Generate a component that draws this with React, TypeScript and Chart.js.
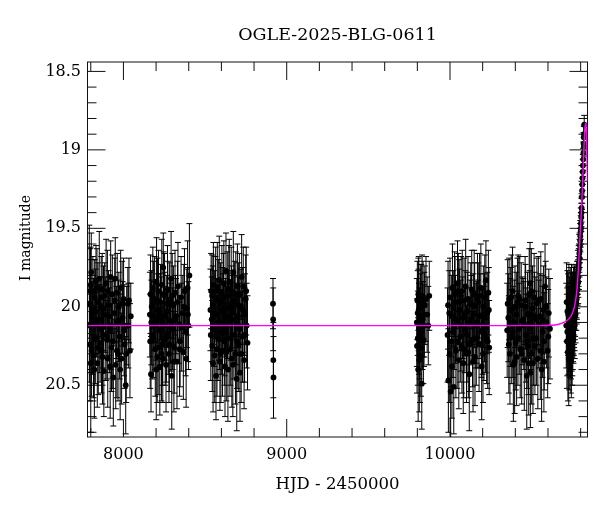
import React, { useEffect, useRef } from "react";
import { Chart, registerables } from "chart.js";

Chart.register(...registerables);

type Obs = [number, number, number]; // [HJD-2450000, I mag, error]

const chartTitle = "OGLE-2025-BLG-0611";
const xAxisTitle = "HJD - 2450000";
const yAxisTitle = "I magnitude";

const xMin = 7780;
const xMax = 10842;
const yMin = 18.44;
const yMax = 20.83;
const xTickValues = [8000, 9000, 10000];
const yTickValues = [18.5, 19, 19.5, 20, 20.5];
const xMinorStep = 200;
const xMajorStep = 1000;
const yMinorStep = 0.1;
const yMajorStep = 0.5;

const season1: Obs[] = [
  [7791, 19.98, 0.5], [7795, 20.24, 0.36], [7799, 19.86, 0.24], [7800, 20.36, 0.44],
  [7803, 19.78, 0.25], [7807, 20.05, 0.21], [7810, 20.17, 0.26], [7813, 19.9, 0.22],
  [7817, 20.31, 0.27], [7820, 20.02, 0.2], [7824, 19.94, 0.24], [7828, 20.2, 0.29],
  [7832, 19.84, 0.23], [7836, 20.11, 0.21], [7840, 20.36, 0.28], [7844, 19.97, 0.25],
  [7848, 20.08, 0.22], [7852, 19.82, 0.3], [7857, 20.23, 0.25], [7861, 20.0, 0.19],
  [7866, 20.28, 0.27], [7870, 19.89, 0.23], [7875, 20.13, 0.26], [7880, 20.41, 0.29],
  [7885, 19.93, 0.21], [7889, 20.05, 0.24], [7894, 19.85, 0.28], [7899, 20.21, 0.25],
  [7904, 20.33, 0.31], [7909, 19.99, 0.22], [7914, 20.15, 0.27], [7919, 20.38, 0.33],
  [7922, 19.81, 0.23], [7927, 20.26, 0.28], [7932, 19.92, 0.25], [7938, 20.45, 0.31],
  [7943, 20.04, 0.21], [7950, 19.82, 0.26], [7953, 20.37, 0.28], [7957, 20.1, 0.23],
  [7962, 19.91, 0.25], [7967, 20.3, 0.3], [7972, 20.0, 0.22], [7977, 20.19, 0.27],
  [7983, 19.88, 0.24], [7989, 20.33, 0.29], [7995, 20.07, 0.23], [8001, 19.95, 0.26],
  [8007, 20.24, 0.28], [8014, 20.5, 0.31], [8020, 20.12, 0.25], [8027, 19.98, 0.23],
  [8034, 19.96, 0.27], [8040, 20.28, 0.3], [8045, 20.06, 0.21],
  [7793, 20.12, 0.3], [7797, 19.9, 0.27], [7805, 20.28, 0.29], [7815, 20.08, 0.26],
  [7822, 20.4, 0.31], [7830, 20.03, 0.27], [7838, 19.88, 0.25], [7846, 20.26, 0.3],
  [7855, 20.14, 0.28], [7864, 19.94, 0.26], [7872, 20.32, 0.3], [7878, 20.01, 0.27],
  [7892, 20.18, 0.29], [7902, 19.9, 0.26], [7912, 20.06, 0.25], [7925, 20.12, 0.28],
  [7935, 20.22, 0.3], [7947, 19.96, 0.27], [7960, 20.28, 0.3], [7970, 20.09, 0.26],
  [7980, 20.4, 0.32], [7992, 19.98, 0.27], [8004, 20.15, 0.29], [8017, 20.3, 0.31],
  [8030, 20.12, 0.27],
];

const season2: Obs[] = [
  [8162, 20.05, 0.27], [8166, 19.92, 0.25], [8169, 20.43, 0.24], [8173, 20.0, 0.23],
  [8177, 20.18, 0.28], [8180, 19.88, 0.26], [8183, 20.2, 0.25], [8187, 20.06, 0.22],
  [8191, 19.95, 0.27], [8195, 20.27, 0.3], [8199, 20.1, 0.24], [8203, 19.84, 0.28],
  [8207, 20.32, 0.29], [8211, 20.02, 0.23], [8215, 19.9, 0.26], [8219, 20.15, 0.25],
  [8223, 20.38, 0.31], [8227, 19.97, 0.24], [8231, 20.08, 0.27], [8235, 19.86, 0.29],
  [8239, 20.24, 0.26], [8241, 20.33, 0.28], [8244, 19.75, 0.22], [8248, 20.12, 0.25],
  [8252, 19.93, 0.27], [8256, 20.21, 0.29], [8261, 20.37, 0.3], [8265, 20.03, 0.23],
  [8270, 19.89, 0.28], [8274, 20.17, 0.26], [8279, 20.3, 0.31], [8283, 19.96, 0.24],
  [8288, 20.09, 0.27], [8292, 19.82, 0.3], [8296, 20.44, 0.34], [8301, 20.14, 0.26],
  [8306, 19.99, 0.25], [8311, 20.26, 0.29], [8316, 19.91, 0.27], [8322, 20.06, 0.24],
  [8328, 20.35, 0.3], [8334, 19.87, 0.28], [8340, 20.11, 0.25], [8347, 20.22, 0.29],
  [8353, 19.94, 0.26], [8360, 20.04, 0.24], [8367, 20.29, 0.3], [8374, 19.9, 0.27],
  [8381, 20.16, 0.28], [8388, 20.01, 0.25], [8393, 19.88, 0.3], [8398, 20.12, 0.28],
  [8404, 19.8, 0.33],
  [8164, 20.22, 0.3], [8171, 20.1, 0.27], [8185, 19.97, 0.26], [8193, 20.12, 0.28],
  [8201, 20.4, 0.32], [8209, 19.96, 0.27], [8217, 20.26, 0.3], [8225, 20.05, 0.26],
  [8233, 20.3, 0.3], [8246, 19.92, 0.27], [8254, 20.06, 0.28], [8263, 20.19, 0.29],
  [8272, 19.98, 0.27], [8281, 20.24, 0.3], [8290, 20.13, 0.28], [8299, 19.93, 0.27],
  [8309, 20.35, 0.32], [8319, 20.08, 0.28], [8331, 19.97, 0.26], [8344, 20.27, 0.3],
  [8357, 20.13, 0.28], [8370, 20.0, 0.27], [8384, 20.33, 0.31], [8395, 20.05, 0.3],
];

const season3: Obs[] = [
  [8533, 20.02, 0.26], [8537, 19.9, 0.24], [8541, 20.08, 0.27], [8544, 20.25, 0.29],
  [8547, 19.99, 0.25], [8551, 19.86, 0.27], [8555, 20.14, 0.24], [8559, 20.31, 0.3],
  [8563, 19.94, 0.26], [8567, 20.44, 0.28], [8571, 20.05, 0.23], [8575, 19.88, 0.29],
  [8579, 20.2, 0.27], [8583, 20.1, 0.24], [8587, 19.83, 0.28], [8591, 20.35, 0.31],
  [8595, 19.97, 0.25], [8599, 20.16, 0.27], [8603, 19.91, 0.3], [8607, 20.28, 0.29],
  [8611, 20.03, 0.24], [8615, 19.85, 0.27], [8618, 20.22, 0.28], [8622, 20.38, 0.32],
  [8625, 20.07, 0.25], [8628, 19.77, 0.24], [8632, 20.13, 0.26], [8636, 19.93, 0.28],
  [8640, 20.4, 0.33], [8644, 20.01, 0.24], [8648, 19.84, 0.27], [8652, 20.27, 0.3],
  [8656, 20.09, 0.25], [8660, 19.9, 0.28], [8664, 20.33, 0.31], [8668, 20.04, 0.24],
  [8673, 19.78, 0.26], [8677, 20.18, 0.28], [8681, 19.96, 0.25], [8686, 20.3, 0.32],
  [8690, 20.11, 0.26], [8694, 20.46, 0.33], [8698, 19.87, 0.27], [8702, 20.06, 0.25],
  [8706, 20.24, 0.3], [8710, 19.92, 0.26], [8714, 20.42, 0.31], [8719, 20.0, 0.24],
  [8724, 19.81, 0.27], [8729, 20.19, 0.29], [8734, 19.87, 0.25], [8739, 20.34, 0.31],
  [8744, 20.05, 0.26], [8749, 19.95, 0.28], [8755, 20.12, 0.27], [8760, 20.23, 0.3],
  [8535, 20.18, 0.29], [8543, 19.93, 0.26], [8549, 20.36, 0.31], [8557, 20.04, 0.27],
  [8565, 19.9, 0.28], [8573, 20.27, 0.3], [8581, 19.96, 0.26], [8589, 20.12, 0.28],
  [8597, 20.3, 0.31], [8605, 20.02, 0.27], [8613, 19.94, 0.28], [8620, 20.15, 0.29],
  [8630, 20.29, 0.31], [8638, 20.06, 0.27], [8646, 19.89, 0.28], [8654, 20.2, 0.3],
  [8662, 20.0, 0.26], [8670, 20.37, 0.33], [8679, 20.08, 0.28], [8688, 19.92, 0.27],
  [8696, 20.22, 0.3], [8704, 19.99, 0.27], [8712, 20.14, 0.29], [8721, 20.3, 0.31],
  [8731, 20.02, 0.27], [8742, 20.18, 0.3], [8752, 19.9, 0.28],
];

const season4: Obs[] = [
  [8916, 19.98, 0.16], [8917, 20.08, 0.2], [8918, 20.34, 0.24], [8919, 20.45, 0.26],
];

const season5: Obs[] = [
  [9797, 20.1, 0.28], [9800, 19.96, 0.25], [9803, 20.2, 0.3], [9806, 19.92, 0.23],
  [9808, 20.02, 0.26], [9810, 20.14, 0.29], [9812, 20.34, 0.33], [9816, 20.31, 0.3],
  [9820, 20.06, 0.27], [9824, 19.98, 0.25], [9827, 20.49, 0.29], [9829, 19.93, 0.26],
  [9833, 20.08, 0.24], [9837, 20.21, 0.28], [9841, 20.12, 0.26], [9846, 19.99, 0.25],
  [9853, 19.95, 0.27], [9860, 20.05, 0.24], [9867, 20.12, 0.25], [9873, 19.93, 0.22],
  [9798, 20.25, 0.3], [9802, 20.04, 0.27], [9805, 20.4, 0.33], [9809, 19.94, 0.26],
  [9814, 20.17, 0.29], [9818, 20.0, 0.27], [9822, 20.26, 0.31], [9831, 20.12, 0.28],
  [9835, 19.97, 0.26], [9843, 20.05, 0.27],
];

const season6: Obs[] = [
  [9985, 20.18, 0.3], [9990, 20.47, 0.33], [9995, 20.04, 0.27], [10000, 19.94, 0.25],
  [10004, 20.54, 0.31], [10008, 20.22, 0.29], [10010, 20.06, 0.26], [10015, 19.88, 0.28],
  [10020, 20.01, 0.24], [10023, 20.51, 0.3], [10026, 20.13, 0.27], [10031, 19.97, 0.29],
  [10036, 20.28, 0.3], [10041, 20.09, 0.25], [10046, 19.85, 0.27], [10051, 19.9, 0.24],
  [10054, 20.34, 0.31], [10058, 20.02, 0.26], [10063, 20.19, 0.29], [10068, 19.93, 0.25],
  [10073, 20.25, 0.3], [10077, 20.07, 0.26], [10081, 20.36, 0.32], [10086, 19.96, 0.27],
  [10091, 20.14, 0.28], [10096, 19.87, 0.3], [10101, 20.3, 0.31], [10106, 20.03, 0.25],
  [10112, 20.29, 0.29], [10118, 20.43, 0.36], [10122, 20.1, 0.27], [10127, 19.98, 0.26],
  [10133, 19.89, 0.25], [10138, 20.21, 0.3], [10143, 20.05, 0.26], [10148, 19.92, 0.28],
  [10153, 20.32, 0.31], [10158, 20.12, 0.27], [10163, 20.1, 0.26], [10168, 19.95, 0.29],
  [10173, 19.97, 0.25], [10178, 20.24, 0.3], [10183, 20.06, 0.27], [10189, 19.88, 0.28],
  [10194, 20.38, 0.34], [10199, 20.15, 0.28], [10204, 20.0, 0.26], [10208, 20.17, 0.3],
  [10213, 19.94, 0.27], [10220, 19.83, 0.25], [10224, 20.2, 0.29], [10228, 20.04, 0.26],
  [10235, 19.91, 0.27], [10240, 20.26, 0.3],
  [9988, 19.99, 0.28], [9998, 20.3, 0.31], [10012, 20.38, 0.33], [10018, 20.16, 0.29],
  [10028, 19.92, 0.27], [10034, 20.08, 0.28], [10044, 20.22, 0.3], [10056, 19.97, 0.27],
  [10066, 20.12, 0.29], [10075, 19.9, 0.26], [10084, 20.27, 0.31], [10094, 20.04, 0.27],
  [10104, 20.18, 0.3], [10110, 19.95, 0.27], [10120, 20.24, 0.3], [10130, 20.08, 0.28],
  [10141, 20.35, 0.32], [10151, 19.99, 0.27], [10161, 20.2, 0.3], [10171, 20.11, 0.28],
  [10181, 19.93, 0.27], [10192, 20.16, 0.29], [10202, 20.3, 0.31], [10211, 20.07, 0.28],
  [10218, 20.13, 0.29], [10231, 20.22, 0.3], [10238, 20.02, 0.27],
];

const season7: Obs[] = [
  [10350, 20.15, 0.3], [10357, 20.07, 0.28], [10362, 19.95, 0.26], [10367, 20.3, 0.32],
  [10372, 20.02, 0.27], [10378, 20.19, 0.3], [10383, 19.9, 0.28], [10388, 20.37, 0.36],
  [10393, 20.1, 0.27], [10398, 20.0, 0.26], [10403, 20.23, 0.3], [10408, 20.32, 0.31],
  [10413, 19.97, 0.28], [10418, 19.93, 0.26], [10424, 20.14, 0.29], [10430, 20.27, 0.31],
  [10436, 19.99, 0.27], [10442, 20.09, 0.28], [10449, 20.08, 0.26], [10455, 20.34, 0.32],
  [10460, 19.96, 0.28], [10465, 20.18, 0.3], [10470, 20.44, 0.34], [10475, 20.05, 0.27],
  [10480, 20.25, 0.31], [10485, 19.92, 0.29], [10490, 19.85, 0.26], [10492, 20.42, 0.35],
  [10495, 20.12, 0.28], [10500, 20.3, 0.32], [10505, 20.01, 0.27], [10510, 20.2, 0.3],
  [10515, 19.94, 0.28], [10520, 20.25, 0.31], [10526, 20.08, 0.27], [10532, 19.98, 0.29],
  [10538, 20.33, 0.32], [10544, 20.11, 0.28], [10551, 20.06, 0.27], [10556, 19.95, 0.3],
  [10561, 20.4, 0.33], [10567, 20.16, 0.29], [10572, 20.02, 0.28], [10577, 20.22, 0.31],
  [10582, 19.87, 0.27], [10590, 20.1, 0.29], [10598, 20.28, 0.3], [10605, 20.04, 0.28],
  [10612, 20.14, 0.32],
  [10353, 19.98, 0.28], [10360, 20.24, 0.31], [10369, 20.1, 0.28], [10375, 19.94, 0.27],
  [10385, 20.16, 0.29], [10396, 20.35, 0.33], [10406, 20.05, 0.27], [10416, 20.2, 0.3],
  [10427, 19.95, 0.27], [10439, 20.3, 0.32], [10452, 20.12, 0.28], [10463, 20.0, 0.27],
  [10472, 20.22, 0.3], [10482, 20.36, 0.33], [10488, 20.05, 0.28], [10498, 19.9, 0.27],
  [10508, 20.36, 0.32], [10518, 20.06, 0.28], [10529, 20.2, 0.3], [10541, 19.96, 0.28],
  [10553, 20.28, 0.31], [10564, 20.08, 0.28], [10575, 20.35, 0.32], [10586, 20.0, 0.29],
  [10602, 20.19, 0.3],
];

const season8: Obs[] = [
  [10712, 20.12, 0.27], [10716, 20.22, 0.3], [10719, 20.03, 0.26], [10722, 20.29, 0.31],
  [10725, 20.15, 0.28], [10728, 19.98, 0.25], [10730, 20.24, 0.29], [10733, 20.08, 0.27],
  [10735, 20.23, 0.22], [10737, 20.18, 0.26], [10739, 20.02, 0.24], [10740, 20.27, 0.28],
  [10742, 20.1, 0.25], [10744, 19.96, 0.23], [10745, 20.15, 0.26], [10747, 20.05, 0.22],
  [10749, 20.2, 0.24], [10751, 19.99, 0.21], [10753, 20.12, 0.23], [10755, 20.08, 0.22],
  [10757, 19.95, 0.2], [10759, 20.03, 0.21], [10761, 19.98, 0.2], [10763, 20.06, 0.22],
  [10765, 20.02, 0.19], [10768, 19.97, 0.18], [10771, 19.93, 0.17], [10774, 19.9, 0.17],
  [10776, 19.95, 0.16], [10779, 19.86, 0.15], [10782, 19.85, 0.14], [10784, 19.78, 0.14],
  [10786, 19.81, 0.13], [10788, 19.74, 0.13], [10790, 19.72, 0.12], [10792, 19.66, 0.12],
  [10794, 19.64, 0.11], [10796, 19.61, 0.11], [10798, 19.55, 0.1], [10800, 19.52, 0.1],
  [10802, 19.5, 0.1], [10804, 19.43, 0.09], [10806, 19.37, 0.09], [10808, 19.3, 0.08],
  [10810, 19.22, 0.08], [10812, 19.18, 0.08], [10814, 19.1, 0.07], [10816, 19.06, 0.07],
  [10818, 18.96, 0.07], [10820, 18.98, 0.06], [10822, 18.84, 0.06],
  [10714, 19.97, 0.25], [10718, 20.16, 0.28], [10724, 20.05, 0.26], [10727, 20.33, 0.3],
  [10732, 20.14, 0.27], [10736, 19.99, 0.24], [10741, 20.2, 0.26], [10743, 20.3, 0.28],
  [10746, 20.09, 0.24], [10748, 20.25, 0.25], [10750, 20.06, 0.22], [10752, 20.17, 0.23],
  [10754, 20.0, 0.21], [10756, 20.14, 0.22], [10758, 20.1, 0.21], [10760, 20.06, 0.2],
  [10762, 19.94, 0.2], [10764, 20.12, 0.21], [10766, 20.0, 0.19], [10769, 20.05, 0.18],
  [10773, 19.98, 0.17], [10777, 19.92, 0.16], [10781, 19.89, 0.15], [10785, 19.84, 0.14],
  [10789, 19.76, 0.13], [10793, 19.69, 0.12], [10797, 19.58, 0.11], [10801, 19.47, 0.1],
  [10805, 19.4, 0.09], [10809, 19.26, 0.08], [10813, 19.14, 0.08], [10817, 19.02, 0.07],
  [10819, 18.92, 0.07], [10821, 18.9, 0.06],
];

const modelHjd = [
  7780, 10550, 10620, 10660, 10690, 10715, 10735, 10750, 10762, 10772, 10780, 10786, 10792,
  10798, 10804, 10810, 10816, 10821, 10825, 10828, 10831, 10833, 10836, 10839, 10842,
];
const modelMag = [
  20.12, 20.12, 20.118, 20.113, 20.103, 20.088, 20.068, 20.04, 20.0, 19.94, 19.86, 19.755, 19.64,
  19.51, 19.4, 19.26, 19.1, 18.97, 18.88, 18.845, 18.83, 18.84, 18.92, 19.05, 19.2,
];

const allObs: Obs[] = [
  ...season1, ...season2, ...season3, ...season4, ...season5, ...season6, ...season7, ...season8,
];

const FONT = "'DejaVu Serif', 'Liberation Serif', serif";
const INK = "#111111";
const MAJOR_LEN = 18;
const MINOR_LEN = 9;
const CAP_HALF = 3;

const framePlugin = {
  id: "frameTicksErrors",
  beforeDatasetsDraw(chart: any) {
    const { ctx, chartArea: a, scales } = chart;
    const xs = scales.x;
    const ys = scales.y;
    ctx.save();
    ctx.strokeStyle = INK;
    ctx.lineWidth = 1;
    ctx.beginPath();
    for (let v = Math.ceil(xMin / xMinorStep) * xMinorStep; v <= xMax; v += xMinorStep) {
      const px = xs.getPixelForValue(v);
      const len = v % xMajorStep === 0 ? MAJOR_LEN : MINOR_LEN;
      ctx.moveTo(px, a.bottom);
      ctx.lineTo(px, a.bottom - len);
      ctx.moveTo(px, a.top);
      ctx.lineTo(px, a.top + len);
    }
    const n0 = Math.ceil(yMin / yMinorStep - 1e-6);
    const n1 = Math.floor(yMax / yMinorStep + 1e-6);
    const ratio = Math.round(yMajorStep / yMinorStep);
    for (let i = n0; i <= n1; i++) {
      const py = ys.getPixelForValue(i * yMinorStep);
      const len = i % ratio === 0 ? MAJOR_LEN : MINOR_LEN;
      ctx.moveTo(a.left, py);
      ctx.lineTo(a.left + len, py);
      ctx.moveTo(a.right, py);
      ctx.lineTo(a.right - len, py);
    }
    ctx.stroke();
    ctx.strokeRect(a.left, a.top, a.right - a.left, a.bottom - a.top);

    // error bars
    ctx.beginPath();
    ctx.rect(a.left, a.top, a.right - a.left, a.bottom - a.top);
    ctx.clip();
    ctx.strokeStyle = "#000";
    ctx.lineWidth = 1;
    ctx.beginPath();
    for (const [t, m, e] of allObs) {
      const px = xs.getPixelForValue(t);
      const y1 = ys.getPixelForValue(m - e);
      const y2 = ys.getPixelForValue(m + e);
      ctx.moveTo(px, y1);
      ctx.lineTo(px, y2);
      ctx.moveTo(px - CAP_HALF, y1);
      ctx.lineTo(px + CAP_HALF, y1);
      ctx.moveTo(px - CAP_HALF, y2);
      ctx.lineTo(px + CAP_HALF, y2);
    }
    ctx.stroke();
    ctx.restore();
  },
  afterDraw(chart: any) {
    const { ctx } = chart;
    ctx.save();
    ctx.fillStyle = "#000";
    ctx.font = `14px ${FONT}`;
    ctx.textAlign = "center";
    ctx.textBaseline = "middle";
    ctx.translate(26, 238);
    ctx.rotate(-Math.PI / 2);
    ctx.fillText(yAxisTitle, 0, 0);
    ctx.restore();
  },
};

export default function App() {
  const ref = useRef<HTMLCanvasElement>(null);

  useEffect(() => {
    const canvas = ref.current;
    if (!canvas) return;
    Chart.defaults.font.family = FONT;
    Chart.defaults.color = "#000";
    const chart = new Chart(canvas, {
      type: "scatter",
      data: {
        datasets: [
          {
            label: "model",
            data: modelHjd.map((t, i) => ({ x: t, y: modelMag[i] })),
            showLine: true,
            borderColor: "#ff00ff",
            backgroundColor: "#ff00ff",
            borderWidth: 1.4,
            pointRadius: 0,
            cubicInterpolationMode: "monotone",
            order: 0,
            xAxisID: "x",
            yAxisID: "y",
          } as any,
          {
            label: "OGLE I-band",
            data: allObs.map((o) => ({ x: o[0], y: o[1] })),
            showLine: false,
            pointRadius: 2.9,
            pointBorderWidth: 0,
            pointBackgroundColor: "#000",
            backgroundColor: "#000",
            borderColor: "#000",
            order: 1,
            xAxisID: "x",
            yAxisID: "y",
          } as any,
        ],
      },
      options: {
        responsive: false,
        animation: false,
        devicePixelRatio: 1,
        events: [],
        layout: { padding: { left: 0, right: 12.5, top: 0, bottom: 0 } },
        plugins: {
          legend: { display: false },
          tooltip: { enabled: false },
          title: { display: false },
        },
        scales: {
          x: {
            type: "linear",
            position: "bottom",
            min: xMin,
            max: xMax,
            grid: { display: false, drawTicks: false },
            border: { display: false },
            afterBuildTicks: (s: any) => {
              s.ticks = xTickValues.map((v) => ({ value: v }));
            },
            ticks: {
              color: "#000",
              font: { family: FONT, size: 16 },
              padding: 8,
              maxRotation: 0,
              autoSkip: false,
              callback: (v: any) => String(v),
            },
            title: {
              display: true,
              text: xAxisTitle,
              color: "#000",
              font: { family: FONT, size: 16.5 },
              padding: { top: 0, bottom: 17 },
            },
            afterFit: (s: any) => {
              s.height = 75;
            },
          },
          top: {
            type: "linear",
            position: "top",
            min: xMin,
            max: xMax,
            grid: { display: false, drawTicks: false },
            border: { display: false },
            ticks: { display: false },
            title: {
              display: true,
              text: chartTitle,
              color: "#000",
              font: { family: FONT, size: 17.5 },
              padding: { top: 24.5, bottom: 0 },
            },
            afterFit: (s: any) => {
              s.height = 62;
            },
          },
          y: {
            type: "linear",
            position: "left",
            reverse: true,
            min: yMin,
            max: yMax,
            grid: { display: false, drawTicks: false },
            border: { display: false },
            afterBuildTicks: (s: any) => {
              s.ticks = yTickValues.map((v) => ({ value: v }));
            },
            ticks: {
              color: "#000",
              font: { family: FONT, size: 16 },
              padding: 6.5,
              autoSkip: false,
              callback: (v: any) => String(v),
            },
            title: { display: false, text: yAxisTitle },
            afterFit: (s: any) => {
              s.width = 87.5;
            },
          },
        },
      } as any,
      plugins: [framePlugin],
    });
    return () => chart.destroy();
  }, []);

  return (
    <div style={{ position: "absolute", left: 0, top: 0, width: 600, height: 512, background: "#fff" }}>
      <canvas ref={ref} width={600} height={512} style={{ display: "block", width: 600, height: 512 }} />
    </div>
  );
}
